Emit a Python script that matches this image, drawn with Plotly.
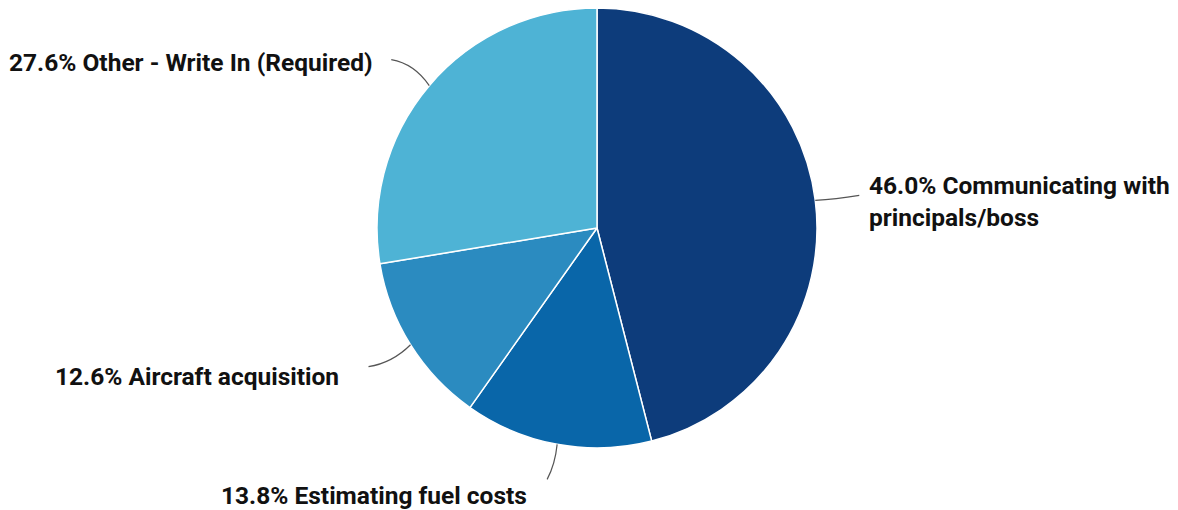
import math
import plotly.graph_objects as go

labels = ["Communicating with<br>principals/boss", "Estimating fuel costs",
          "Aircraft acquisition", "Other - Write In (Required)"]
values = [46.0, 13.8, 12.6, 27.6]
colors = ["#0d3c7b", "#0966a9", "#2b8bc0", "#4eb3d5"]

W, H = 1178, 510
OFF = 8  # page body margin
FW, FH = W - OFF, H - OFF
cx, cy, R = 597, 228, 220

leader_end = [(44, -5), (-10, 35), (-42, 22), (-38, -26)]
leader_ctrl = [(20, -1), (-2, 20), (-18, 18), (-15, -22)]
label_off = [(8, 6), (-18, 16), (-28, 10), (-16, 3)]
xanchors = ["left", "right", "right", "right"]


def px(x, y):
    return (x - OFF) / FW, 1 - (y - OFF) / FH


dx0, dy1 = px(cx - R, cy - R)
dx1, dy0 = px(cx + R, cy + R)

fig = go.Figure(go.Pie(
    labels=labels, values=values, sort=False, direction="clockwise", rotation=0,
    marker=dict(colors=colors, line=dict(color="white", width=1.5)),
    textinfo="none", hoverinfo="label+percent", showlegend=False,
    domain=dict(x=[dx0, dx1], y=[dy0, dy1]),
))

total = sum(values)
cum = 0
shapes, annotations = [], []
for i, v in enumerate(values):
    mid = (cum + v / 2) / total * 2 * math.pi
    cum += v
    ex, ey = cx + R * math.sin(mid), cy - R * math.cos(mid)
    lx, ly = ex + leader_end[i][0], ey + leader_end[i][1]
    qx, qy = ex + leader_ctrl[i][0], ey + leader_ctrl[i][1]
    a, b = px(ex, ey)
    c, d = px(qx, qy)
    e, f = px(lx, ly)
    shapes.append(dict(type="path", xref="paper", yref="paper",
                       path=f"M {a} {b} Q {c} {d} {e} {f}",
                       line=dict(color="#555555", width=1.2)))
    tx, ty = px(lx + label_off[i][0], ly + label_off[i][1])
    annotations.append(dict(
        x=tx, y=ty, xref="paper", yref="paper", xanchor=xanchors[i], yanchor="middle",
        align="left", showarrow=False,
        text=f"<b>{v:.1f}% {labels[i]}</b>",
        font=dict(family="Roboto, sans-serif", size=24.5, color="#111111"),
    ))

fig.update_layout(width=FW, height=FH, margin=dict(l=0, r=0, t=0, b=0),
                  paper_bgcolor="white", plot_bgcolor="white",
                  shapes=shapes, annotations=annotations)
fig.write_html("out.html")
